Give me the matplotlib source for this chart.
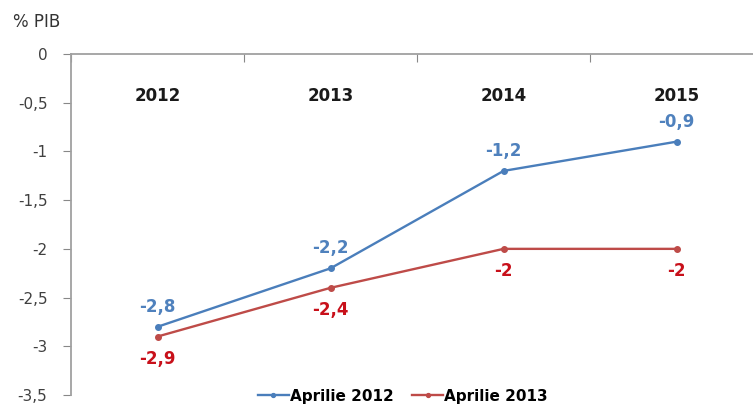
import matplotlib
matplotlib.use("Agg")
import matplotlib.pyplot as plt
from matplotlib.ticker import FixedLocator

years = ["2012", "2013", "2014", "2015"]
apr2012 = [-2.8, -2.2, -1.2, -0.9]
apr2013 = [-2.9, -2.4, -2.0, -2.0]
series_names = ["Aprilie 2012", "Aprilie 2013"]
yticks = [0, -0.5, -1, -1.5, -2, -2.5, -3, -3.5]
ytick_labels = ["0", "-0,5", "-1", "-1,5", "-2", "-2,5", "-3", "-3,5"]

plt.rcParams['font.family'] = ['DejaVu Sans']

fig = plt.figure(figsize=(7.53, 4.08), dpi=100)
W, H = 753, 408
left, right = 71, 753
top, bottom = 54, 395
ax = fig.add_axes([left / W, 1 - bottom / H, (right - left) / W, (bottom - top) / H])

blue = "#4a7ebb"
red = "#be4b48"
blue_lbl = "#4f81bd"
red_lbl = "#c8101a"

x = list(range(len(years)))
ax.plot(x, apr2012, color=blue, lw=1.7, marker="o", ms=4, label=series_names[0], clip_on=False)
ax.plot(x, apr2013, color=red, lw=1.7, marker="o", ms=4, label=series_names[1], clip_on=False)

def fmt(v):
    return ("%g" % v).replace(".", ",")

for xi, v in zip(x, apr2012):
    ax.annotate(fmt(v), (xi, v), xytext=(0, 8), textcoords="offset points",
                ha="center", va="bottom", color=blue_lbl, fontsize=12, fontweight="bold")
for xi, v in zip(x, apr2013):
    ax.annotate(fmt(v), (xi, v), xytext=(0, -9.5), textcoords="offset points",
                ha="center", va="top", color=red_lbl, fontsize=12, fontweight="bold")

for xi, yl in zip(x, years):
    ax.text(xi, -0.43, yl, ha="center", va="center", fontsize=12, fontweight="bold", color="#1a1a1a")

span = 173.0
xmax = -0.5 + (right - left) / span
ax.set_xlim(-0.5, xmax)
ax.set_ylim(-3.5, 0)

ax.set_yticks(yticks)
ax.set_yticklabels(ytick_labels)
ax.tick_params(axis="y", direction="out", length=6, color="#888888", labelcolor="#404040",
               labelsize=11, pad=11)

ax.xaxis.set_ticks_position("top")
ax.xaxis.set_major_locator(FixedLocator([-0.5, 0.5, 1.5, 2.5, 3.5]))
ax.tick_params(axis="x", direction="in", length=6, color="#888888", labeltop=False, labelbottom=False)

for s in ["right", "bottom"]:
    ax.spines[s].set_visible(False)
for s in ["left", "top"]:
    ax.spines[s].set_color("#a0a0a0")
    ax.spines[s].set_linewidth(1.3)

fig.text(13 / W, 1 - 22 / H, "% PIB", ha="left", va="center", fontsize=12, color="#333333")

leg = fig.legend(loc="center", bbox_to_anchor=(403 / W, 1 - 396 / H), ncol=2, frameon=False,
                 prop={"weight": "bold", "size": 11}, handlelength=2.0, columnspacing=1.2,
                 handletextpad=0.1, markerscale=0.7)

fig.savefig("out.png", dpi=100)
